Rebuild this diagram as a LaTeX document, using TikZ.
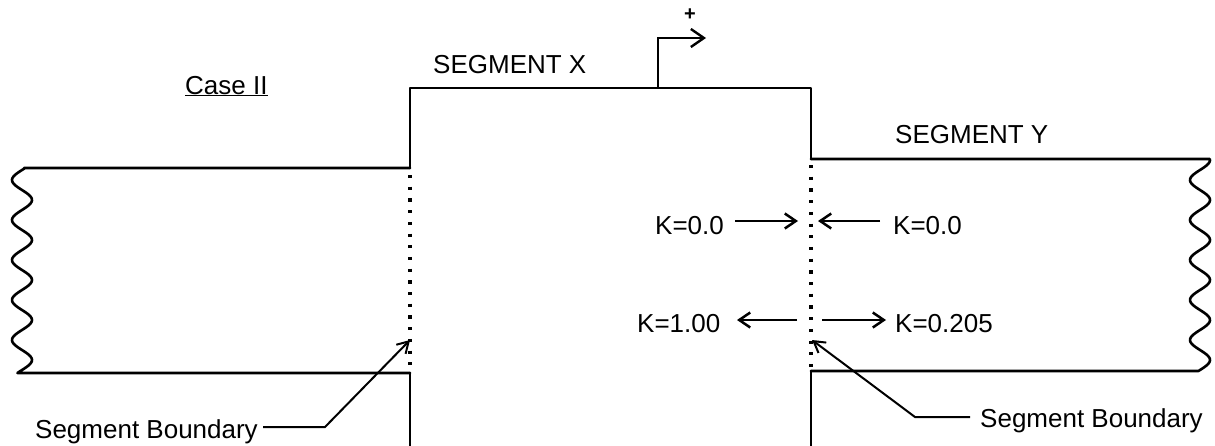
\documentclass[tikz,border=0pt]{standalone}
\usepackage{fontspec}
\setmainfont{Liberation Sans}
\usetikzlibrary{arrows.meta}
\begin{document}
\begin{tikzpicture}[x=1pt,y=-1pt,
  lbl/.style={inner sep=0pt,anchor=base west,font=\fontsize{26}{30}\selectfont},
  edge/.style={line width=2.6pt,line join=round,line cap=round},
  bnd/.style={line width=3.2pt,dash pattern=on 3.2pt off 8.5pt},
  karrow/.style={line width=2.5pt,-{Straight Barb[length=11pt,width=15pt,line width=2.5pt]}},
  leader/.style={line width=2pt,-{Straight Barb[length=11pt,width=13pt,line width=2pt]}}]
\useasboundingbox (0,0) rectangle (1215,445);
% central segment X
\draw[edge] (410,450) -- (410,373);
\draw[edge] (410,168) -- (410,88) -- (811,88) -- (811,159);
\draw[edge] (811,371) -- (811,450);
% left strip
\draw[edge] (410,168) -- (24,168) -- plot[domain=168:373,samples=140,smooth] ({22-10*cos(9*(\x-180))},\x) -- (410,373);
% right strip
\draw[edge] (811,159) -- (1205,159) -- plot[domain=159:371,samples=140,smooth] ({1200+10*cos(9*(\x-200))},\x) -- (811,371);
% boundaries
\draw[bnd] (410,175) -- (410,370);
\draw[bnd] (811,165) -- (811,368);
% plus arrow
\coordinate (pbase) at (658,88);
\coordinate (pcorner) at (658,38);
\coordinate (ptip) at (706,38);
\draw[line width=2.4pt,-{Straight Barb[length=13pt,width=18pt,line width=2.4pt]}] (pbase) -- (pcorner) -- (ptip);
\node[inner sep=0pt,font=\fontsize{20}{22}\selectfont\bfseries] (plus) at (690,15) {+};
% titles
\node[lbl] (case) at (185,94) {\underline{Case II}};
\node[lbl] (segx) at (433,73) {SEGMENT X};
\node[lbl] (segy) at (895,143) {SEGMENT Y};
% K labels
\node[lbl] (k1) at (655,234) {K=0.0};
\node[lbl] (k2) at (893,234) {K=0.0};
\node[lbl] (k3) at (637,332) {K=1.00};
\node[lbl] (k4) at (895,332) {K=0.205};
\coordinate (a1) at (735,221);
\coordinate (b1) at (798,221);
\coordinate (a2) at (880,221);
\coordinate (b2) at (818,221);
\coordinate (a3) at (797,320);
\coordinate (b3) at (737,320);
\coordinate (a4) at (822,320);
\coordinate (b4) at (886,320);
\draw[karrow] (a1) -- (b1);
\draw[karrow] (a2) -- (b2);
\draw[karrow] (a3) -- (b3);
\draw[karrow] (a4) -- (b4);
% segment boundary leaders
\node[lbl] (sbl) at (35,438) {Segment Boundary};
\node[lbl] (sbr) at (980,427) {Segment Boundary};
\coordinate (sl) at (263,427);
\coordinate (kl) at (325,427);
\coordinate (tl) at (410,340);
\coordinate (sr) at (970,417);
\coordinate (kr) at (915,417);
\coordinate (tr) at (812,340);
\draw[leader] (sl) -- (kl) -- (tl);
\draw[leader] (sr) -- (kr) -- (tr);
\end{tikzpicture}
\end{document}
